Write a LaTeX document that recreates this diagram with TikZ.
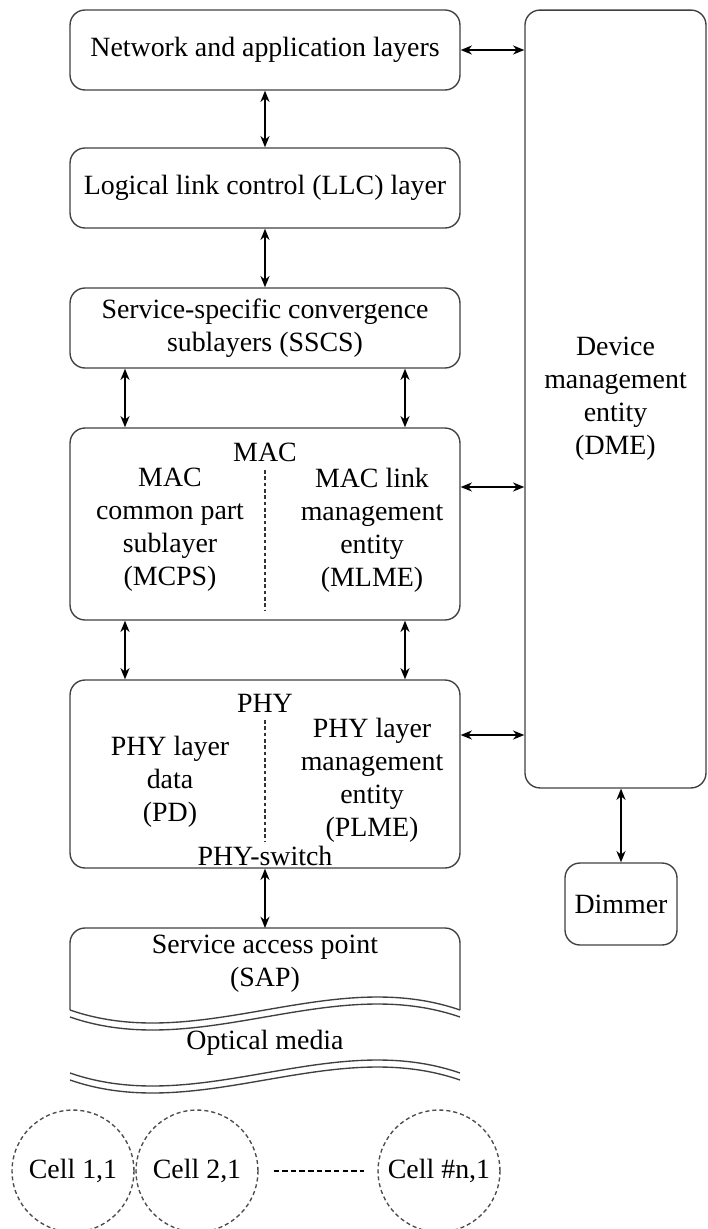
\documentclass[tikz,border=0pt]{standalone}
\usepackage{fontspec}
\setmainfont{Liberation Serif}
\usetikzlibrary{arrows.meta,calc}
\begin{document}
\begin{tikzpicture}[x=0.0155cm,y=-0.0155cm,
    font=\fontsize{12.3}{14.6}\selectfont,
    layer/.style={draw=black!75,line width=0.6pt,rounded corners=6.6pt,inner sep=0pt,
      minimum width=6.045cm,minimum height=1.24cm,align=center},
    txt/.style={align=center,inner sep=0pt},
    link/.style={{Stealth[length=5pt,width=4pt]}-{Stealth[length=5pt,width=4pt]},line width=0.7pt},
    split/.style={black!80,line width=0.6pt,dash pattern=on 1.6pt off 1.2pt},
    cell/.style={circle,draw=black!70,line width=0.6pt,dash pattern=on 1.8pt off 1.3pt,
      minimum size=1.89cm,inner sep=0pt}]
  \useasboundingbox (0,0) rectangle (708,1229);
  % left stack
  \node[layer] (net) at (265,50) {Network and application layers};
  \node[layer] (llc) at (265,188) {Logical link control (LLC) layer};
  \node[layer] (sscs) at (265,328) {Service-specific convergence\\sublayers (SSCS)};
  \node[layer,minimum height=2.976cm] (mac) at (265,524) {};
  \node[layer,minimum height=2.914cm] (phy) at (265,774) {};
  % MAC
  \node[txt] (mactitle) at (265,452) {MAC};
  \node[txt] (mcps) at (170,530) {MAC\\common part\\sublayer\\(MCPS)};
  \node[txt] (mlme) at (372,530) {MAC link\\management\\entity\\(MLME)};
  \draw[split] (265,470) -- (265,610);
  % PHY
  \node[txt] (phytitle) at (265,703) {PHY};
  \node[txt] (pd) at (170,782) {PHY layer\\data\\(PD)};
  \node[txt] (plme) at (372,780) {PHY layer\\management\\entity\\(PLME)};
  \node[txt] (physwitch) at (265,856) {PHY-switch};
  \draw[split] (265,720) -- (265,842);
  % right side
  \node[layer,minimum width=2.806cm,minimum height=12.059cm] (dme) at (615.5,399)
    {Device\\management\\entity\\(DME)};
  \node[layer,minimum width=1.736cm,minimum height=1.271cm] (dimmer) at (621,904) {Dimmer};
  % SAP and the medium
  \coordinate (saptop) at (265,928);
  \draw[black!75,line width=0.6pt,rounded corners=6.6pt] (70,1010) -- (70,928) -- (460,928) -- (460,1010);
  \foreach \dy in {0,7,63,70}
    \draw[black!75,line width=0.6pt] (70,1010+\dy) .. controls (200,1055+\dy) and (330,965+\dy) .. (460,1010+\dy);
  \node[txt] (sap) at (265,964) {Service access point\\(SAP)};
  \node[txt] (media) at (265,1043) {Optical media};
  % cells
  \node[cell] (c11) at (73,1171) {Cell 1,1};
  \node[cell] (c21) at (197,1171) {Cell 2,1};
  \node[cell] (cn1) at (439,1171) {Cell \#n,1};
  \draw[line width=0.6pt,dash pattern=on 2.4pt off 1.4pt,shorten <=6.6pt,shorten >=5.7pt] (c21) -- (cn1);
  % links
  \draw[link] (net) -- (llc);
  \draw[link] (llc) -- (sscs);
  \foreach \dx in {-140,140} {
    \draw[link] ($(sscs.south)+(\dx,0)$) -- ($(mac.north)+(\dx,0)$);
    \draw[link] ($(mac.south)+(\dx,0)$) -- ($(phy.north)+(\dx,0)$);
  }
  \draw[link] (phy) -- (saptop);
  \path ($(mac.east)+(0,-37)$) coordinate (macr)
        ($(phy.east)+(0,-39)$) coordinate (phyr);
  \draw[link] (net.east) -- (net.east -| dme.west);
  \draw[link] (macr) -- (macr -| dme.west);
  \draw[link] (phyr) -- (phyr -| dme.west);
  \draw[link] (dimmer.north |- dme.south) -- (dimmer.north);
\end{tikzpicture}
\end{document}
